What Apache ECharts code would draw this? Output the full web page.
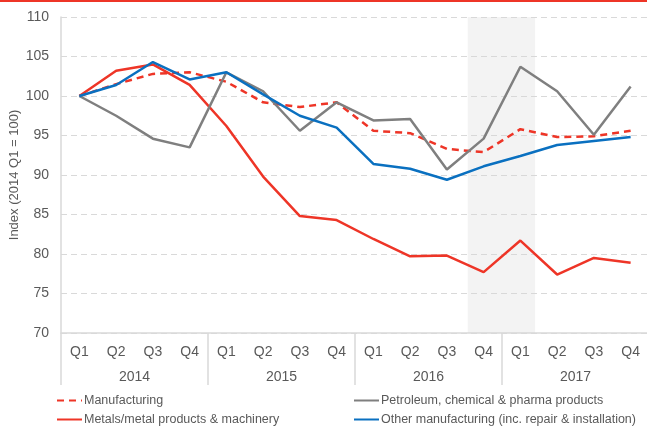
<!DOCTYPE html>
<html>
<head>
<meta charset="utf-8">
<script src="https://cdn.jsdelivr.net/npm/echarts@6/dist/echarts.min.js"></script>
<style>
  html, body { margin: 0; padding: 0; background: #fff; }
  #chart { width: 647px; height: 430px; }
</style>
</head>
<body>
<div id="chart"></div>
<script>
const quarters = ['Q1', 'Q2', 'Q3', 'Q4', 'Q1', 'Q2', 'Q3', 'Q4', 'Q1', 'Q2', 'Q3', 'Q4', 'Q1', 'Q2', 'Q3', 'Q4']
const years = ['2014', '2015', '2016', '2017']
const yTicks = [70, 75, 80, 85, 90, 95, 100, 105, 110]

const manufacturing = [100, 101.5, 102.8, 103.0, 101.8, 99.2, 98.6, 99.2, 95.6, 95.3, 93.3, 92.9, 95.8, 94.8, 94.9, 95.6]
const metals = [100, 103.2, 104.0, 101.4, 96.2, 89.8, 84.8, 84.3, 81.9, 79.7, 79.8, 77.7, 81.7, 77.4, 79.5, 78.9]
const petroleum = [100, 97.5, 94.6, 93.5, 103.0, 100.6, 95.6, 99.2, 96.9, 97.1, 90.7, 94.6, 103.7, 100.6, 95.1, 101.2]
const other = [100, 101.4, 104.3, 102.1, 103.0, 100.2, 97.5, 96.0, 91.4, 90.8, 89.4, 91.1, 92.4, 93.8, 94.3, 94.8]

// shaded period, in quarter-index units (2016 Q4 - 2017 Q1)
const shadeFrom = 10.57
const shadeTo = 12.4

const RED = '#ee3527'
const GREY = '#7f7f7f'
const BLUE = '#0a70c0'
const TEXT = '#595959'
const AXIS = '#d9d9d9'
const FONT = 'Liberation Sans, Arial, sans-serif'

const chart = echarts.init(document.getElementById('chart'))

function lineSeries(name, data, color, dashed) {
  return {
    name: name,
    type: 'line',
    xAxisIndex: 0,
    data: data,
    symbol: 'none',
    smooth: false,
    lineStyle: { color: color, width: 2.5, type: dashed ? [7, 5] : 'solid' },
    itemStyle: { color: color },
    z: 3
  }
}

const legendBase = {
  top: 394, orient: 'vertical', itemGap: 6, itemWidth: 25, itemHeight: 14, padding: 0,
  itemStyle: { opacity: 0 },
  lineStyle: { width: 2 },
  textStyle: { color: TEXT, fontSize: 12.5, fontFamily: FONT, padding: [0, 0, 0, -3] }
}

chart.setOption({
  animation: false,
  textStyle: { fontFamily: FONT },
  graphic: [
    { type: 'rect', left: 0, top: 0, shape: { width: 647, height: 2 }, style: { fill: RED } }
  ],
  grid: { left: 61, right: -2, top: 17, bottom: 97, containLabel: false, outerBoundsMode: 'none' },
  legend: [
    Object.assign({}, legendBase, {
      left: 56,
      data: ['Manufacturing', 'Metals/metal products & machinery']
    }),
    Object.assign({}, legendBase, {
      left: 353,
      data: ['Petroleum, chemical & pharma products', 'Other manufacturing (inc. repair & installation)']
    })
  ],
  xAxis: [
    {
      type: 'category',
      data: quarters,
      boundaryGap: true,
      axisLine: { show: true, lineStyle: { color: AXIS, width: 1.5 } },
      axisTick: { show: false },
      axisLabel: { color: TEXT, fontSize: 14, margin: 12, interval: 0 },
      splitLine: { show: false }
    },
    {
      type: 'category',
      data: years,
      position: 'bottom',
      boundaryGap: true,
      axisLine: { show: false },
      axisTick: { show: true, length: 52, lineStyle: { color: AXIS, width: 1.5 } },
      axisLabel: { color: TEXT, fontSize: 14, margin: 37 },
      splitLine: { show: false }
    },
    {
      type: 'value',
      min: -0.5,
      max: quarters.length - 0.5,
      show: false
    }
  ],
  yAxis: {
    type: 'value',
    min: yTicks[0],
    max: yTicks[yTicks.length - 1],
    interval: 5,
    name: 'Index (2014 Q1 = 100)',
    nameLocation: 'middle',
    nameGap: 40,
    nameMoveOverlap: false,
    nameTextStyle: { color: TEXT, fontSize: 13 },
    axisLine: { show: true, onZero: false, lineStyle: { color: AXIS, width: 1.5 } },
    axisTick: { show: false },
    axisLabel: { color: TEXT, fontSize: 14, margin: 12 },
    splitLine: { show: true, lineStyle: { color: AXIS, type: [6, 4], width: 1 } }
  },
  series: [
    lineSeries('Manufacturing', manufacturing, RED, true),
    lineSeries('Metals/metal products & machinery', metals, RED, false),
    lineSeries('Petroleum, chemical & pharma products', petroleum, GREY, false),
    lineSeries('Other manufacturing (inc. repair & installation)', other, BLUE, false),
    {
      name: 'shade',
      type: 'line',
      xAxisIndex: 2,
      data: [],
      silent: true,
      z: 5,
      markArea: {
        silent: true,
        itemStyle: { color: 'rgba(215,215,215,0.3)' },
        data: [[{ xAxis: shadeFrom }, { xAxis: shadeTo }]]
      }
    }
  ]
})
</script>
</body>
</html>
